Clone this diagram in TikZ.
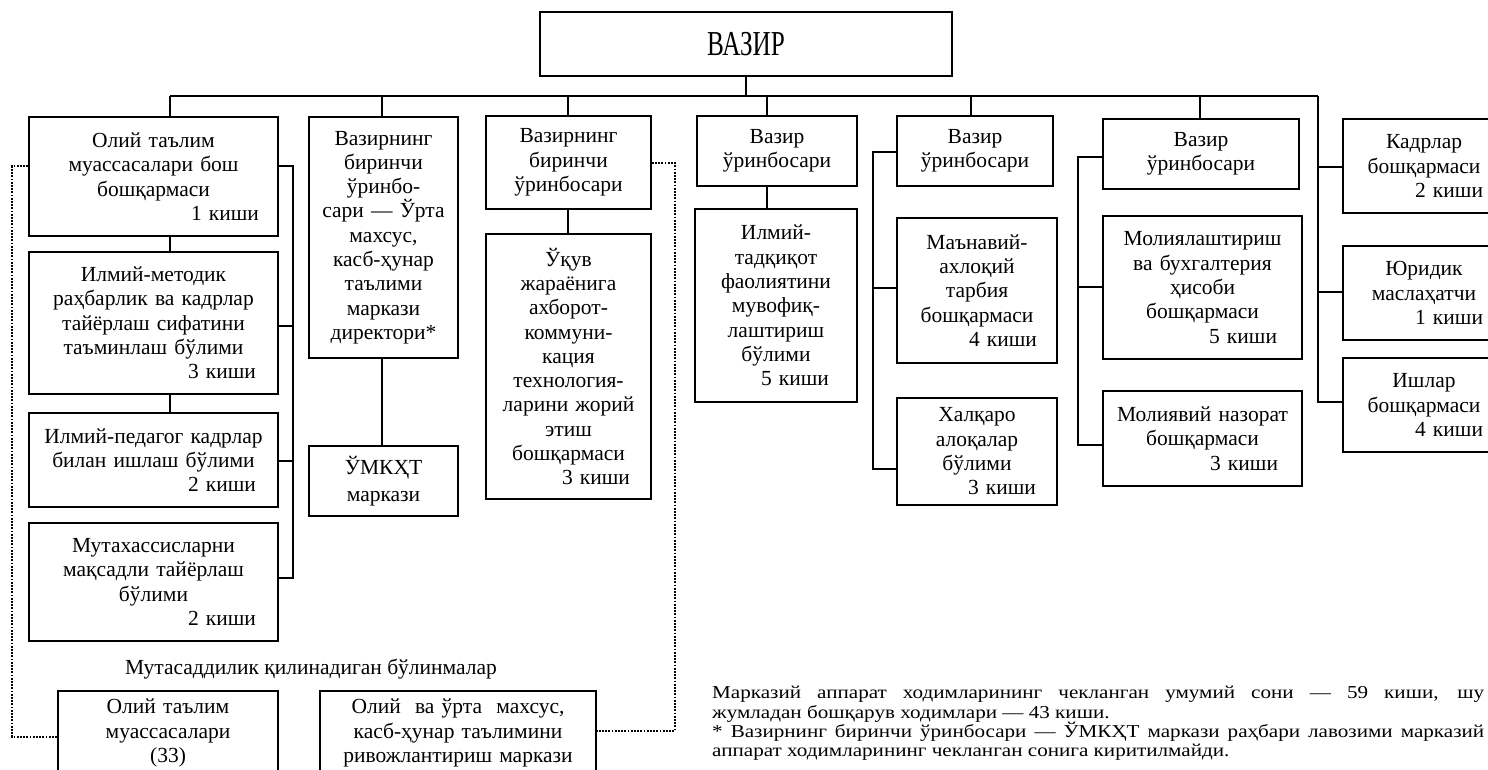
\documentclass[tikz,border=0pt]{standalone}
\usepackage{fontspec}
\setmainfont{Liberation Serif}
\usetikzlibrary{calc}
\newcommand\rsp[1]{\rule{#1}{0pt}}
\newcommand\widen[1]{\scalebox{1.16}[1]{#1}}
\begin{document}
\begin{tikzpicture}[x=1pt,y=-1pt,
  box/.style={draw, line width=1.7pt, align=center, inner xsep=4pt, inner ysep=0pt,
    font=\fontsize{21.5}{24.3}\selectfont},
  conn/.style={line width=1.5pt},
  dots/.style={line width=2.6pt, dash pattern=on 1.8pt off 1.4pt},
  lbl/.style={font=\fontsize{21.5}{24.3}\selectfont, inner sep=0pt},
  noteline/.style={anchor=base west, inner sep=0pt, font=\fontsize{18.2}{20}\selectfont}]
\useasboundingbox (0,0) rectangle (1488,769);

% top
\node[box, minimum width=412pt, minimum height=64pt, font=\fontsize{35}{38}\selectfont] (vazir) at (746,44) {\scalebox{0.72}[1]{ВАЗИР}};

% column 1
\node[box, minimum width=249pt, text width=241pt, minimum height=119pt] (A) at (153.5,176.5)
  {Олий таълим\\муассасалари бош\\бошқармаси\\\hspace*{\fill}1 киши\rsp{15pt}};
\node[box, minimum width=249pt, text width=241pt, minimum height=142pt] (B) at (153.5,323)
  {Илмий-методик\\раҳбарлик ва кадрлар\\тайёрлаш сифатини\\таъминлаш бўлими\\\hspace*{\fill}3 киши\rsp{18pt}};
\node[box, minimum width=249pt, text width=241pt, minimum height=94pt] (C) at (153.5,460)
  {Илмий-педагог кадрлар\\билан ишлаш бўлими\\\hspace*{\fill}2 киши\rsp{18pt}};
\node[box, minimum width=249pt, text width=241pt, minimum height=118pt] (D) at (153.5,582)
  {Мутахассисларни\\мақсадли тайёрлаш\\бўлими\\\hspace*{\fill}2 киши\rsp{18pt}};

% column 2
\node[box, minimum width=149pt, text width=141pt, minimum height=241pt] (E) at (383.5,237.5)
  {Вазирнинг\\биринчи\\ўринбо-\\сари — Ўрта\\махсус,\\касб-ҳунар\\таълими\\маркази\\директори*};
\node[box, minimum width=149pt, text width=141pt, minimum height=70pt, font=\fontsize{21.5}{27}\selectfont] (H) at (383.5,481)
  {ЎМКҲТ\\маркази};

% column 3
\node[box, minimum width=165pt, text width=157pt, minimum height=93pt] (F) at (568.5,162.5)
  {Вазирнинг\\биринчи\\ўринбосари};
\node[box, minimum width=165pt, text width=157pt, minimum height=265pt] (G) at (568.5,366.5)
  {Ўқув\\жараёнига\\ахборот-\\коммуни-\\кация\\технология-\\ларини жорий\\этиш\\бошқармаси\\\hspace*{\fill}3 киши\rsp{17pt}};

% column 4
\node[box, minimum width=160pt, text width=152pt, minimum height=70pt] (I) at (777,151)
  {Вазир\\ўринбосари};
\node[box, minimum width=162pt, text width=154pt, minimum height=193pt] (J) at (776,305.5)
  {Илмий-\\тадқиқот\\фаолиятини\\мувофиқ-\\лаштириш\\бўлими\\\hspace*{\fill}5 киши\rsp{24pt}};

% column 5
\node[box, minimum width=156pt, text width=148pt, minimum height=70pt] (K) at (975,151)
  {Вазир\\ўринбосари};
\node[box, minimum width=160pt, text width=152pt, minimum height=145pt] (L) at (977,290.5)
  {Маънавий-\\ахлоқий\\тарбия\\бошқармаси\\\hspace*{\fill}4 киши\rsp{16pt}};
\node[box, minimum width=160pt, text width=152pt, minimum height=107pt] (M) at (977,451.5)
  {Халқаро\\алоқалар\\бўлими\\\hspace*{\fill}3 киши\rsp{17pt}};

% column 6
\node[box, minimum width=196pt, text width=188pt, minimum height=70pt] (N) at (1201,154)
  {Вазир\\ўринбосари};
\node[box, minimum width=199pt, text width=191pt, minimum height=143pt] (O) at (1202.5,287.5)
  {Молиялаштириш\\ва бухгалтерия\\ҳисоби\\бошқармаси\\\hspace*{\fill}5 киши\rsp{21pt}};
\node[box, minimum width=199pt, text width=191pt, minimum height=95pt] (P) at (1202.5,438.5)
  {Молиявий назорат\\бошқармаси\\\hspace*{\fill}3 киши\rsp{20pt}};

% column 7 (cut at right edge)
\node[box, minimum width=162pt, text width=154pt, minimum height=94pt] (Q) at (1424,166)
  {Кадрлар\\бошқармаси\\\hspace*{\fill}2 киши\rsp{18pt}};
\node[box, minimum width=162pt, text width=154pt, minimum height=94pt] (R) at (1424,293)
  {Юридик\\маслаҳатчи\\\hspace*{\fill}1 киши\rsp{18pt}};
\node[box, minimum width=162pt, text width=154pt, minimum height=94pt] (S) at (1424,405)
  {Ишлар\\бошқармаси\\\hspace*{\fill}4 киши\rsp{18pt}};

% bottom
\node[lbl] (lab) at (311,669) {Мутасаддилик қилинадиган бўлинмалар};
\node[box, minimum width=220pt, text width=212pt, minimum height=84pt] (T) at (168,733)
  {Олий таълим\\муассасалари\\(33)};
\node[box, minimum width=276pt, text width=268pt, minimum height=84pt] (U) at (458,733)
  {Олий\ \ ва ўрта\ \ махсус,\\касб-ҳунар таълимини\\ривожлантириш маркази};

% note (four lines, first and third justified)
\node[noteline] (note1) at (712,698.5)
  {\widen{\makebox[665.5pt][s]{Марказий аппарат ходимларининг чекланган умумий сони — 59 киши, шу}}};
\node[noteline] (note2) at (712,718)
  {\widen{жумладан бошқарув ходимлари — 43 киши.}};
\node[noteline] (note3) at (712,737.5)
  {\widen{\makebox[665.5pt][s]{* Вазирнинг биринчи ўринбосари — ЎМКҲТ маркази раҳбари лавозими марказий}}};
\node[noteline] (note4) at (712,756)
  {\widen{аппарат ходимларининг чекланган сонига киритилмайди.}};

% bus
\coordinate (bL) at (170,96);
\coordinate (bR) at (1318,96);
\coordinate (xe) at (382,96);
\coordinate (xf) at (568,96);
\coordinate (xi) at (767,96);
\coordinate (xk) at (971,96);
\coordinate (xn) at (1200,96);
\draw[conn] (vazir.south) -- (vazir.south |- bL);
\draw[conn] (bL) -- (bR);
\draw[conn] (bL) -- (bL |- A.north);
\draw[conn] (xe) -- (xe |- E.north);
\draw[conn] (xf) -- (xf |- F.north);
\draw[conn] (xi) -- (xi |- I.north);
\draw[conn] (xk) -- (xk |- K.north);
\draw[conn] (xn) -- (xn |- N.north);

% column 1 links
\draw[conn] (A.south -| bL) -- (B.north -| bL);
\draw[conn] (B.south -| bL) -- (C.north -| bL);
\coordinate (ls1) at (293,166);
\coordinate (ls2) at (293,326);
\coordinate (ls3) at (293,461);
\coordinate (ls4) at (293,578);
\draw[conn] (ls1 -| A.east) -- (ls1) -- (ls4) -- (ls4 -| D.east);
\draw[conn] (ls2) -- (ls2 -| B.east);
\draw[conn] (ls3) -- (ls3 -| C.east);

% column 2/3/4 links
\draw[conn] (E.south -| xe) -- (H.north -| xe);
\draw[conn] (F.south -| xf) -- (G.north -| xf);
\draw[conn] (I.south -| xi) -- (J.north -| xi);

% column 5 spine
\coordinate (ks1) at (873,152);
\coordinate (ks2) at (873,288);
\coordinate (ks3) at (873,469);
\draw[conn] (ks1 -| K.west) -- (ks1) -- (ks3) -- (ks3 -| M.west);
\draw[conn] (ks2) -- (ks2 -| L.west);

% column 6 spine
\coordinate (ns1) at (1078,157);
\coordinate (ns2) at (1078,287);
\coordinate (ns3) at (1078,445);
\draw[conn] (ns1 -| N.west) -- (ns1) -- (ns3) -- (ns3 -| P.west);
\draw[conn] (ns2) -- (ns2 -| O.west);

% right spine
\coordinate (rs1) at (1318,167);
\coordinate (rs2) at (1318,292);
\coordinate (rs3) at (1318,402);
\draw[conn] (bR) -- (rs3) -- (rs3 -| S.west);
\draw[conn] (rs1) -- (rs1 -| Q.west);
\draw[conn] (rs2) -- (rs2 -| R.west);

% dotted links
\coordinate (dl1) at (12,166);
\coordinate (dl2) at (12,737);
\draw[dots] (dl1 -| A.west) -- (dl1) -- (dl2) -- (dl2 -| T.west);
\coordinate (dr1) at (675,163);
\coordinate (dr2) at (675,731);
\draw[dots] (dr1 -| F.east) -- (dr1) -- (dr2) -- (dr2 -| U.east);
\end{tikzpicture}
\end{document}
